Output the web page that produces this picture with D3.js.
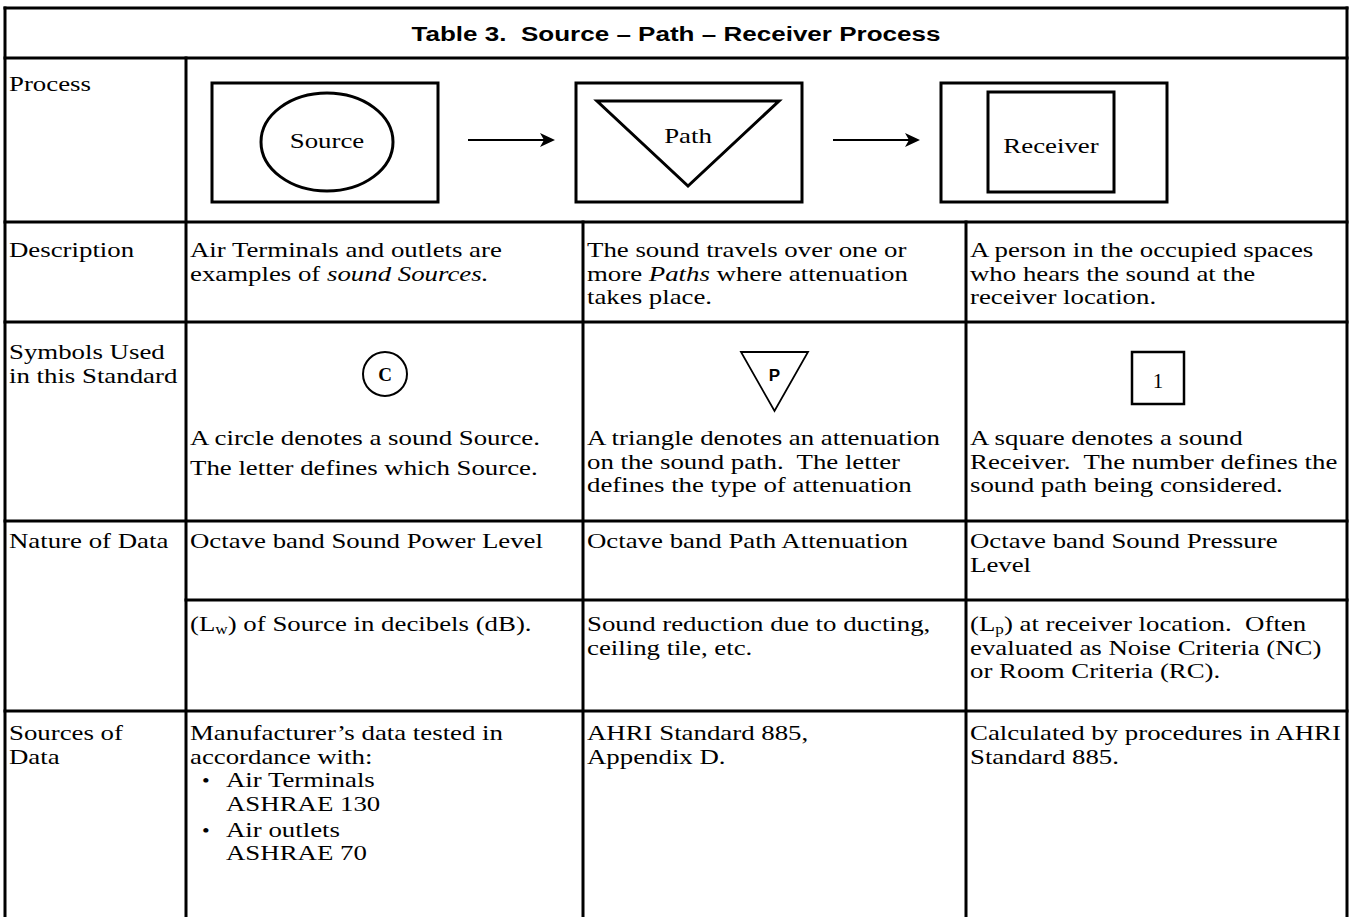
<!DOCTYPE html>
<html><head><meta charset="utf-8">
<script src="https://cdn.jsdelivr.net/npm/d3@7"></script>
<style>body{margin:0;background:#fff} text{white-space:pre}</style></head>
<body><svg id="c" width="1352" height="917"></svg>
<script>
// ---------- DATA ----------
const title = "Table 3.  Source \u2013 Path \u2013 Receiver Process";
const rowLabels = [["Process"], ["Description"], ["Symbols Used", "in this Standard"], ["Nature of Data"], ["Sources of", "Data"]];
const processStages = ["Source", "Path", "Receiver"];
const descriptionText = [
  ["Air Terminals and outlets are", "examples of *sound Sources.*"],
  ["The sound travels over one or", "more *Paths* where attenuation", "takes place."],
  ["A person in the occupied spaces", "who hears the sound at the", "receiver location."]
];
const symbolLetters = ["C", "P", "1"];
const symbolText = [
  ["A circle denotes a sound Source.", "The letter defines which Source."],
  ["A triangle denotes an attenuation", "on the sound path.  The letter", "defines the type of attenuation"],
  ["A square denotes a sound", "Receiver.  The number defines the", "sound path being considered."]
];
const natureTop = [["Octave band Sound Power Level"], ["Octave band Path Attenuation"], ["Octave band Sound Pressure", "Level"]];
const natureBottom = [
  ["(L_w) of Source in decibels (dB)."],
  ["Sound reduction due to ducting,", "ceiling tile, etc."],
  ["(L_p) at receiver location.  Often", "evaluated as Noise Criteria (NC)", "or Room Criteria (RC)."]
];
const sourcesText = [
  ["Manufacturer\u2019s data tested in", "accordance with:", "\u2022Air Terminals", ">ASHRAE 130", "\u2022Air outlets", ">ASHRAE 70"],
  ["AHRI Standard 885,", "Appendix D."],
  ["Calculated by procedures in AHRI", "Standard 885."]
];

// ---------- LAYOUT ----------
const svg = d3.select("#c");
const W = 1352, H = 917;
const L = 5, R = 1347, T = 8;
const colEdges = [L, 186, 583, 966, R];
const rowEdges = [58, 222, 322, 521, 711];
const natMid = 600;
const SERIF = "'Liberation Serif','Times New Roman',serif";
const SANS = "'Liberation Sans',Arial,sans-serif";
const FS = 22, SX = 1.22, LH = 23.5;
const colX = d3.scaleOrdinal().domain([0,1,2,3]).range(colEdges.slice(0,4).map(x => x + 4));

svg.append("rect").attr("width", W).attr("height", H).attr("fill", "#fff");

const lines = svg.append("g").attr("stroke", "#000").attr("stroke-width", 3).attr("stroke-linecap", "square");
const hl = (x1, x2, y) => lines.append("line").attr("x1", x1).attr("x2", x2).attr("y1", y).attr("y2", y);
const vl = (x, y1, y2) => lines.append("line").attr("x1", x).attr("x2", x).attr("y1", y1).attr("y2", y2);
hl(L, R, T);
rowEdges.forEach(y => hl(L, R, y));
hl(colEdges[1], R, natMid);
vl(L, T, H + 5); vl(R, T, H + 5);
vl(colEdges[1], rowEdges[0], H + 5);
vl(colEdges[2], rowEdges[1], H + 5);
vl(colEdges[3], rowEdges[1], H + 5);

// text helper with markup: *italic*, _x subscript
function drawText(g, str, x, y, opts = {}) {
  const size = opts.size || FS;
  const t = g.append("text")
    .attr("transform", `translate(${x},${y}) scale(${opts.sx || SX},1)`)
    .attr("font-family", opts.family || SERIF)
    .attr("font-size", size)
    .attr("font-weight", opts.weight || "normal")
    .attr("text-anchor", opts.anchor || "start")
    .attr("fill", "#000");
  let italic = false, buf = "", pendingDy = 0;
  const flush = () => {
    if (buf) {
      const sp = t.append("tspan").attr("font-style", italic ? "italic" : "normal").text(buf);
      if (pendingDy) { sp.attr("dy", pendingDy); pendingDy = 0; }
      buf = "";
    }
  };
  for (let i = 0; i < str.length; i++) {
    const ch = str[i];
    if (ch === "*") { flush(); italic = !italic; }
    else if (ch === "_") {
      flush();
      t.append("tspan").attr("font-size", size * 0.64).attr("dy", 3).text(str[i + 1]);
      pendingDy = -3;
      i++;
    } else buf += ch;
  }
  flush();
  return t;
}
function drawLines(arr, x, y0, lh = LH) {
  arr.forEach((s, i) => drawText(svg, s, x, y0 + i * lh));
}

// title
drawText(svg, title, (L + R) / 2, 41, {family: SANS, weight: "bold", size: 21, anchor: "middle", sx: 1.24});

// row labels
const labelBase = [91, 257, 359, 548, 740];
rowLabels.forEach((ls, i) => drawLines(ls, colX(0), labelBase[i]));

// process row shapes
const proc = svg.append("g").attr("fill", "none").attr("stroke", "#000").attr("stroke-width", 3);
const boxX = [212, 576, 941], boxW = 226, boxY = 83, boxH = 119;
boxX.forEach(x => proc.append("rect").attr("x", x).attr("y", boxY).attr("width", boxW).attr("height", boxH));
proc.append("ellipse").attr("cx", 327).attr("cy", 142).attr("rx", 66).attr("ry", 49);
proc.append("path").attr("d", d3.line()([[597, 101], [779, 101], [688, 186]]) + "Z").attr("stroke-linejoin", "miter");
proc.append("rect").attr("x", 988).attr("y", 92).attr("width", 126).attr("height", 100);
const stageCx = [327, 688, 1051], stageBase = [148, 143, 153];
processStages.forEach((s, i) => drawText(svg, s, stageCx[i], stageBase[i], {anchor: "middle"}));
// arrows
const arrows = svg.append("g");
[[468, 555], [833, 920]].forEach(([x1, x2]) => {
  arrows.append("line").attr("x1", x1).attr("x2", x2 - 6).attr("y1", 140).attr("y2", 140).attr("stroke", "#000").attr("stroke-width", 2);
  arrows.append("path").attr("d", `M${x2},140 L${x2 - 15},133 L${x2 - 11},140 L${x2 - 15},147 Z`).attr("fill", "#000");
});

// description
descriptionText.forEach((ls, i) => drawLines(ls, colX(i + 1), 257));

// symbols
const sym = svg.append("g").attr("fill", "none").attr("stroke", "#000").attr("stroke-width", 2);
sym.append("circle").attr("cx", 385).attr("cy", 374).attr("r", 22);
sym.append("path").attr("d", "M741,352 L808,352 L774.5,411 Z").attr("stroke-width", 1.8);
sym.append("rect").attr("x", 1132).attr("y", 352).attr("width", 52).attr("height", 52).attr("stroke-width", 2.5);
drawText(svg, symbolLetters[0], 385, 381, {anchor: "middle", weight: "bold", size: 19, sx: 1});
drawText(svg, symbolLetters[1], 774.5, 381, {anchor: "middle", weight: "bold", size: 17, family: SANS, sx: 1});
drawText(svg, symbolLetters[2], 1158, 388, {anchor: "middle", size: 21, sx: 1});
drawLines(symbolText[0], colX(1), 445, 30);
drawLines(symbolText[1], colX(2), 445);
drawLines(symbolText[2], colX(3), 445);

// nature of data
natureTop.forEach((ls, i) => drawLines(ls, colX(i + 1), 548));
natureBottom.forEach((ls, i) => drawLines(ls, colX(i + 1), 631));

// sources
sourcesText.forEach((ls, i) => {
  const x = colX(i + 1);
  let y = 740;
  let bullets = 0;
  ls.forEach((s) => {
    if (s.startsWith("\u2022")) {
      if (bullets > 0) y += 2.5;
      drawText(svg, "\u2022", x + 12, y, {size: 18});
      drawText(svg, s.slice(1), x + 36, y);
      bullets++;
    } else if (s.startsWith(">")) {
      drawText(svg, s.slice(1), x + 36, y);
    } else drawText(svg, s, x, y);
    y += LH;
  });
});
</script></body></html>
